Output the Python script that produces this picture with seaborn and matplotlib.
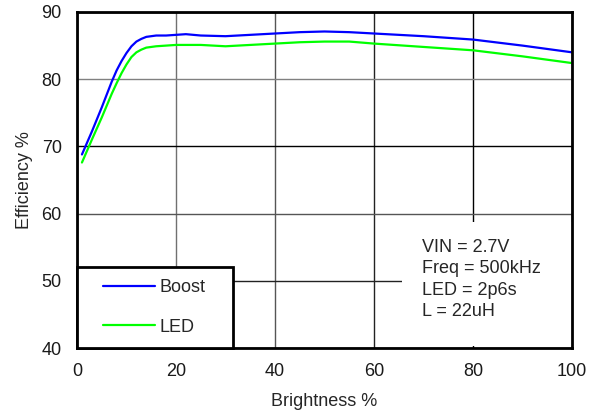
import numpy as np
import pandas as pd
import seaborn as sns
import matplotlib
matplotlib.use('Agg')
import matplotlib.pyplot as plt
from matplotlib.patches import Rectangle

#######################################
######## Data #######
#######################################

brightness = [1, 3, 5, 7, 8, 9, 10, 11, 12, 13, 14, 16, 18, 20, 22, 25, 30, 35, 40, 45,
              50, 55, 60, 70, 80, 90, 100]
boost_eff = [68.8, 72.2, 75.8, 79.6, 81.3, 82.7, 83.9, 84.9, 85.6, 86.0, 86.3, 86.5, 86.5,
             86.6, 86.7, 86.5, 86.4, 86.6, 86.8, 87.0, 87.1, 87.0, 86.8, 86.4, 85.9, 85.0, 84.0]
led_eff = [67.6, 71.0, 74.3, 77.8, 79.4, 80.9, 82.2, 83.3, 84.0, 84.4, 84.7, 84.9, 85.0,
           85.1, 85.1, 85.1, 84.9, 85.1, 85.3, 85.5, 85.6, 85.6, 85.3, 84.8, 84.3, 83.4, 82.4]
series_names = ['Boost', 'LED']
series_colors = ['#0000ff', '#00ff00']
x_ticks = [0, 20, 40, 60, 80, 100]
y_ticks = [40, 50, 60, 70, 80, 90]
conditions = ['VIN = 2.7V', 'Freq = 500kHz', 'LED = 2p6s', 'L = 22uH']

df = pd.DataFrame({
    'Brightness': brightness * 2,
    'Efficiency': boost_eff + led_eff,
    'Series': [series_names[0]] * len(brightness) + [series_names[1]] * len(brightness),
})

#####################################
########### Plotting ################
#####################################

FS = 13
sns.set_theme(style="white")
plt.rcParams['font.family'] = ['Liberation Sans', 'DejaVu Sans']
plt.rcParams['font.size'] = FS

fig = plt.figure(figsize=(5.98, 4.15), dpi=100)
ax = fig.add_axes([77 / 598, 1 - 348 / 415, 495 / 598, 336 / 415])

sns.lineplot(data=df, x='Brightness', y='Efficiency', hue='Series',
             palette=dict(zip(series_names, series_colors)), linewidth=1.6, ax=ax)

ax.set_xlim(0, 100)
ax.set_ylim(40, 90)
ax.set_xticks(x_ticks)
ax.set_yticks(y_ticks)
ax.tick_params(axis='both', length=0, labelsize=FS, colors='#1a1a1a')
ax.tick_params(axis='x', pad=11)
ax.tick_params(axis='y', pad=11)
ax.set_xlabel('Brightness %', fontsize=FS, labelpad=9)
ax.set_ylabel('Efficiency %', fontsize=FS, labelpad=6)

ax.grid(True, linewidth=1.0)
ax.set_axisbelow(True)
ygrid_colors = ['#000000', '#222222', '#555555', '#000000', '#808080', '#000000']
for line, c in zip(ax.get_ygridlines(), ygrid_colors):
    line.set_color(c)
xgrid_colors = ['#000000', '#707070', '#555555', '#222222', '#000000', '#000000']
for line, c in zip(ax.get_xgridlines(), xgrid_colors):
    line.set_color(c)

for sp in ax.spines.values():
    sp.set_color('black')
    sp.set_linewidth(2)

# white panel behind the test conditions
ax.add_patch(Rectangle((0.657, 0.006), 0.343, 0.369, transform=ax.transAxes,
                       facecolor='white', edgecolor='none', zorder=1))
cond_y = [(348 - b) / 336 for b in (252, 273.3, 294.6, 316)]
for txt, yy in zip(conditions, cond_y):
    ax.text(0.697, yy, txt, transform=ax.transAxes, fontsize=FS,
            va='baseline', ha='left', zorder=3)

# legend box
ax.add_patch(Rectangle((0.0, 0.0), 0.315, 0.241, transform=ax.transAxes,
                       facecolor='white', edgecolor='black', linewidth=2,
                       zorder=4, clip_on=False))
leg = ax.legend(loc='center left', bbox_to_anchor=(0.0525, 0.1205), frameon=False,
                borderaxespad=0, borderpad=0, fontsize=FS, handlelength=2.9,
                handletextpad=0.25, labelspacing=1.25, title=None)
leg.set_zorder(5)

plt.savefig('out.png', dpi=100)
